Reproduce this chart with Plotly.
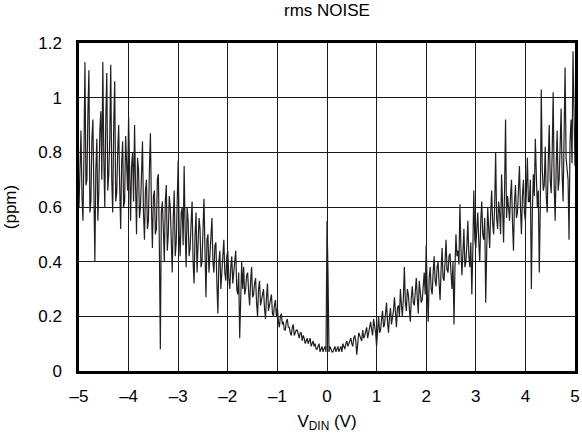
import plotly.graph_objects as go

# Sample positions (V_DIN, volts)
x_vdin = [
    -5.00, -4.98, -4.96, -4.94, -4.92, -4.90, -4.88, -4.86, -4.84, -4.82, -4.80, -4.78, -4.76, -4.74, -4.72, -4.70, -4.68, -4.66, -4.64, -4.62, -4.60, -4.58, -4.56, -4.54, -4.52,
    -4.50, -4.48, -4.46, -4.44, -4.42, -4.40, -4.38, -4.36, -4.34, -4.32, -4.30, -4.28, -4.26, -4.24, -4.22, -4.20, -4.18, -4.16, -4.14, -4.12, -4.10, -4.08, -4.06, -4.04, -4.02,
    -4.00, -3.98, -3.96, -3.94, -3.92, -3.90, -3.88, -3.86, -3.84, -3.82, -3.80, -3.78, -3.76, -3.74, -3.72, -3.70, -3.68, -3.66, -3.64, -3.62, -3.60, -3.58, -3.56, -3.54, -3.52,
    -3.50, -3.48, -3.46, -3.44, -3.42, -3.40, -3.38, -3.36, -3.34, -3.32, -3.30, -3.28, -3.26, -3.24, -3.22, -3.20, -3.18, -3.16, -3.14, -3.12, -3.10, -3.08, -3.06, -3.04, -3.02,
    -3.00, -2.98, -2.96, -2.94, -2.92, -2.90, -2.88, -2.86, -2.84, -2.82, -2.80, -2.78, -2.76, -2.74, -2.72, -2.70, -2.68, -2.66, -2.64, -2.62, -2.60, -2.58, -2.56, -2.54, -2.52,
    -2.50, -2.48, -2.46, -2.44, -2.42, -2.40, -2.38, -2.36, -2.34, -2.32, -2.30, -2.28, -2.26, -2.24, -2.22, -2.20, -2.18, -2.16, -2.14, -2.12, -2.10, -2.08, -2.06, -2.04, -2.02,
    -2.00, -1.98, -1.96, -1.94, -1.92, -1.90, -1.88, -1.86, -1.84, -1.82, -1.80, -1.78, -1.76, -1.74, -1.72, -1.70, -1.68, -1.66, -1.64, -1.62, -1.60, -1.58, -1.56, -1.54, -1.52,
    -1.50, -1.48, -1.46, -1.44, -1.42, -1.40, -1.38, -1.36, -1.34, -1.32, -1.30, -1.28, -1.26, -1.24, -1.22, -1.20, -1.18, -1.16, -1.14, -1.12, -1.10, -1.08, -1.06, -1.04, -1.02,
    -1.00, -0.98, -0.96, -0.94, -0.92, -0.90, -0.88, -0.86, -0.84, -0.82, -0.80, -0.78, -0.76, -0.74, -0.72, -0.70, -0.68, -0.66, -0.64, -0.62, -0.60, -0.58, -0.56, -0.54, -0.52,
    -0.50, -0.48, -0.46, -0.44, -0.42, -0.40, -0.38, -0.36, -0.34, -0.32, -0.30, -0.28, -0.26, -0.24, -0.22, -0.20, -0.18, -0.16, -0.14, -0.12, -0.10, -0.08, -0.06, -0.04, -0.02,
    0.00, 0.02, 0.04, 0.06, 0.08, 0.10, 0.12, 0.14, 0.16, 0.18, 0.20, 0.22, 0.24, 0.26, 0.28, 0.30, 0.32, 0.34, 0.36, 0.38, 0.40, 0.42, 0.44, 0.46, 0.48,
    0.50, 0.52, 0.54, 0.56, 0.58, 0.60, 0.62, 0.64, 0.66, 0.68, 0.70, 0.72, 0.74, 0.76, 0.78, 0.80, 0.82, 0.84, 0.86, 0.88, 0.90, 0.92, 0.94, 0.96, 0.98,
    1.00, 1.02, 1.04, 1.06, 1.08, 1.10, 1.12, 1.14, 1.16, 1.18, 1.20, 1.22, 1.24, 1.26, 1.28, 1.30, 1.32, 1.34, 1.36, 1.38, 1.40, 1.42, 1.44, 1.46, 1.48,
    1.50, 1.52, 1.54, 1.56, 1.58, 1.60, 1.62, 1.64, 1.66, 1.68, 1.70, 1.72, 1.74, 1.76, 1.78, 1.80, 1.82, 1.84, 1.86, 1.88, 1.90, 1.92, 1.94, 1.96, 1.98,
    2.00, 2.02, 2.04, 2.06, 2.08, 2.10, 2.12, 2.14, 2.16, 2.18, 2.20, 2.22, 2.24, 2.26, 2.28, 2.30, 2.32, 2.34, 2.36, 2.38, 2.40, 2.42, 2.44, 2.46, 2.48,
    2.50, 2.52, 2.54, 2.56, 2.58, 2.60, 2.62, 2.64, 2.66, 2.68, 2.70, 2.72, 2.74, 2.76, 2.78, 2.80, 2.82, 2.84, 2.86, 2.88, 2.90, 2.92, 2.94, 2.96, 2.98,
    3.00, 3.02, 3.04, 3.06, 3.08, 3.10, 3.12, 3.14, 3.16, 3.18, 3.20, 3.22, 3.24, 3.26, 3.28, 3.30, 3.32, 3.34, 3.36, 3.38, 3.40, 3.42, 3.44, 3.46, 3.48,
    3.50, 3.52, 3.54, 3.56, 3.58, 3.60, 3.62, 3.64, 3.66, 3.68, 3.70, 3.72, 3.74, 3.76, 3.78, 3.80, 3.82, 3.84, 3.86, 3.88, 3.90, 3.92, 3.94, 3.96, 3.98,
    4.00, 4.02, 4.04, 4.06, 4.08, 4.10, 4.12, 4.14, 4.16, 4.18, 4.20, 4.22, 4.24, 4.26, 4.28, 4.30, 4.32, 4.34, 4.36, 4.38, 4.40, 4.42, 4.44, 4.46, 4.48,
    4.50, 4.52, 4.54, 4.56, 4.58, 4.60, 4.62, 4.64, 4.66, 4.68, 4.70, 4.72, 4.74, 4.76, 4.78, 4.80, 4.82, 4.84, 4.86, 4.88, 4.90, 4.92, 4.94, 4.96, 4.98,
    5.00,
]

# rms noise (ppm)
noise_ppm = [
    0.60, 0.72, 0.88, 0.64, 0.55, 0.80, 1.13, 0.68, 0.70, 0.95, 1.10, 0.58, 0.62, 0.85, 0.92, 0.66, 0.40, 0.74, 0.85, 0.55, 0.66, 0.88, 0.95, 0.70, 1.13,
    0.78, 0.60, 0.92, 1.09, 0.66, 0.72, 0.85, 1.12, 0.70, 0.58, 0.90, 1.06, 0.62, 0.65, 0.80, 0.90, 0.68, 0.52, 0.76, 0.84, 0.60, 0.62, 0.86, 0.78, 0.66,
    0.93, 0.70, 0.55, 0.75, 0.80, 0.62, 0.90, 0.68, 0.50, 0.78, 0.74, 0.56, 0.60, 0.72, 0.84, 0.58, 0.48, 0.66, 0.70, 0.52, 0.55, 0.74, 0.87, 0.60, 0.45,
    0.64, 0.66, 0.50, 0.52, 0.70, 0.72, 0.46, 0.08, 0.58, 0.62, 0.52, 0.40, 0.62, 0.68, 0.44, 0.50, 0.64, 0.60, 0.48, 0.36, 0.56, 0.66, 0.42, 0.47, 0.62,
    0.77, 0.50, 0.42, 0.58, 0.60, 0.46, 0.75, 0.52, 0.38, 0.60, 0.55, 0.42, 0.45, 0.54, 0.62, 0.40, 0.32, 0.50, 0.58, 0.36, 0.44, 0.56, 0.52, 0.38, 0.40,
    0.55, 0.63, 0.44, 0.27, 0.48, 0.50, 0.36, 0.42, 0.52, 0.56, 0.40, 0.36, 0.46, 0.47, 0.32, 0.21, 0.40, 0.44, 0.30, 0.38, 0.45, 0.48, 0.36, 0.33, 0.42,
    0.44, 0.34, 0.30, 0.38, 0.42, 0.32, 0.35, 0.40, 0.44, 0.30, 0.28, 0.36, 0.12, 0.33, 0.40, 0.30, 0.38, 0.28, 0.30, 0.35, 0.36, 0.29, 0.24, 0.33, 0.38,
    0.27, 0.28, 0.32, 0.34, 0.25, 0.20, 0.30, 0.33, 0.24, 0.26, 0.29, 0.30, 0.23, 0.19, 0.27, 0.32, 0.22, 0.24, 0.27, 0.28, 0.21, 0.20, 0.24, 0.26, 0.20,
    0.23, 0.18, 0.16, 0.20, 0.21, 0.17, 0.18, 0.15, 0.15, 0.18, 0.19, 0.16, 0.16, 0.14, 0.13, 0.16, 0.17, 0.13, 0.14, 0.15, 0.15, 0.13, 0.12, 0.14, 0.14,
    0.11, 0.13, 0.12, 0.10, 0.11, 0.12, 0.10, 0.11, 0.12, 0.09, 0.10, 0.11, 0.09, 0.10, 0.08, 0.08, 0.09, 0.10, 0.07, 0.08, 0.09, 0.07, 0.08, 0.09, 0.07,
    0.55, 0.36, 0.07, 0.09, 0.08, 0.07, 0.07, 0.08, 0.09, 0.07, 0.08, 0.09, 0.07, 0.08, 0.09, 0.07, 0.10, 0.09, 0.08, 0.10, 0.11, 0.09, 0.10, 0.11, 0.12,
    0.10, 0.09, 0.12, 0.13, 0.11, 0.06, 0.10, 0.14, 0.13, 0.12, 0.11, 0.15, 0.12, 0.13, 0.15, 0.16, 0.12, 0.14, 0.17, 0.18, 0.15, 0.13, 0.19, 0.17, 0.14,
    0.09, 0.16, 0.20, 0.14, 0.15, 0.19, 0.22, 0.16, 0.17, 0.21, 0.25, 0.18, 0.14, 0.20, 0.23, 0.17, 0.19, 0.22, 0.27, 0.19, 0.16, 0.23, 0.24, 0.20, 0.30,
    0.24, 0.20, 0.27, 0.38, 0.25, 0.22, 0.30, 0.28, 0.23, 0.18, 0.27, 0.31, 0.25, 0.24, 0.29, 0.34, 0.27, 0.21, 0.33, 0.30, 0.25, 0.26, 0.32, 0.36, 0.28,
    0.46, 0.30, 0.18, 0.34, 0.38, 0.30, 0.28, 0.36, 0.42, 0.33, 0.31, 0.38, 0.40, 0.32, 0.26, 0.37, 0.45, 0.34, 0.33, 0.40, 0.48, 0.37, 0.36, 0.42, 0.43,
    0.36, 0.30, 0.40, 0.17, 0.38, 0.50, 0.42, 0.44, 0.39, 0.61, 0.45, 0.35, 0.43, 0.52, 0.38, 0.40, 0.46, 0.55, 0.42, 0.38, 0.47, 0.28, 0.44, 0.66, 0.48,
    0.45, 0.52, 0.58, 0.47, 0.40, 0.55, 0.62, 0.50, 0.48, 0.56, 0.25, 0.44, 0.60, 0.52, 0.45, 0.58, 0.66, 0.54, 0.50, 0.60, 0.80, 0.56, 0.52, 0.62, 0.58,
    0.50, 0.72, 0.60, 0.47, 0.66, 0.92, 0.56, 0.64, 0.60, 0.55, 0.64, 0.70, 0.54, 0.44, 0.62, 0.68, 0.56, 0.58, 0.66, 0.75, 0.60, 0.50, 0.64, 0.70, 0.58,
    0.55, 0.66, 0.78, 0.62, 0.62, 0.70, 0.30, 0.58, 0.72, 0.64, 0.85, 0.72, 0.60, 0.66, 0.36, 0.60, 1.03, 0.74, 0.66, 0.68, 0.82, 0.64, 0.58, 0.76, 0.90,
    0.70, 0.65, 0.80, 1.02, 0.68, 0.55, 0.74, 0.88, 0.66, 0.70, 0.82, 0.96, 0.72, 0.62, 0.86, 1.11, 0.78, 0.75, 0.70, 0.48, 0.84, 0.92, 0.76, 1.17, 0.85,
    0.75,
]

x_tickvals = [-5, -4, -3, -2, -1, 0, 1, 2, 3, 4, 5]
x_ticktext = ["–5", "–4", "–3", "–2", "–1", "0", "1", "2", "3", "4", "5"]
y_tickvals = [0, 0.2, 0.4, 0.6, 0.8, 1.0, 1.2]
y_ticktext = ["0", "0.2", "0.4", "0.6", "0.8", "1", "1.2"]

FONT = "Liberation Sans, Arial, sans-serif"
FS = 17

fig = go.Figure()
fig.add_trace(go.Scatter(
    x=x_vdin, y=noise_ppm, mode="lines",
    line=dict(color="#231f20", width=1.2),
    showlegend=False, hoverinfo="skip",
))

fig.update_layout(
    width=582, height=445,
    margin=dict(l=79, r=7, t=43, b=74),
    paper_bgcolor="white", plot_bgcolor="white",
    font=dict(family=FONT, size=FS, color="black"),
    title=dict(text="rms NOISE", xref="paper", x=0.5, xanchor="center",
               yref="container", y=0.99, yanchor="top",
               font=dict(family=FONT, size=FS, color="black")),
)
fig.update_xaxes(
    range=[-5, 5], tickvals=x_tickvals, ticktext=x_ticktext,
    showgrid=True, gridcolor="#1a1a1a", gridwidth=1,
    showline=True, linecolor="black", linewidth=2.5, mirror=True,
    ticks="", zeroline=False, automargin=False, ticklabelstandoff=8,
    title=dict(text="V<sub>DIN</sub> (V)", font=dict(family=FONT, size=FS), standoff=10),
    tickfont=dict(family=FONT, size=FS),
)
fig.update_yaxes(
    range=[0, 1.2], tickvals=y_tickvals, ticktext=y_ticktext,
    showgrid=True, gridcolor="#1a1a1a", gridwidth=1,
    showline=True, linecolor="black", linewidth=2.5, mirror=True,
    ticks="", zeroline=False, automargin=False, ticklabelstandoff=11,
    title=dict(text="(ppm)", font=dict(family=FONT, size=FS), standoff=18),
    tickfont=dict(family=FONT, size=FS),
)

# remove the browser's default 8px body margin so the figure sits at the page origin
fig.write_html("out.html", config={"displayModeBar": False},
               post_script="document.body.style.margin='0';")
